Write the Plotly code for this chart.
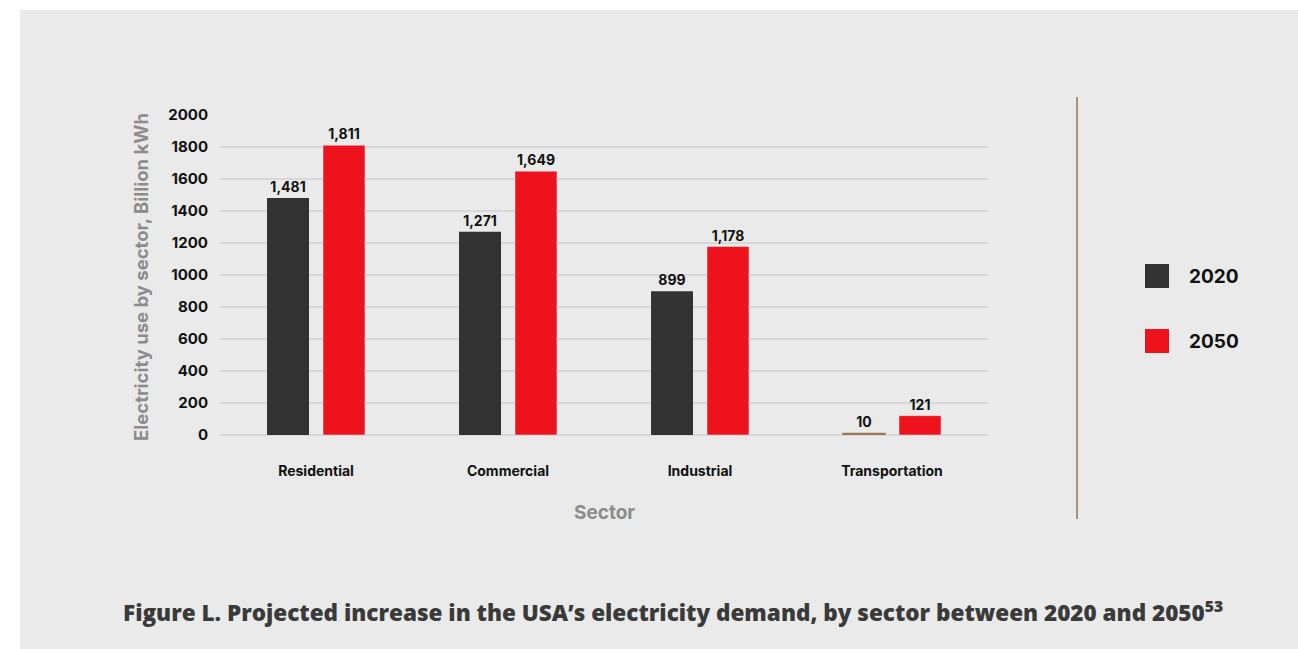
import plotly.graph_objects as go

sectors = ["Residential", "Commercial", "Industrial", "Transportation"]
values_2020 = [1481, 1271, 899, 10]
values_2050 = [1811, 1649, 1178, 121]
colors_2020 = ["#333333", "#333333", "#333333", "#9C7B53"]
color_2050 = "#EE121C"
y_ticks = [0, 200, 400, 600, 800, 1000, 1200, 1400, 1600, 1800, 2000]

W, H = 1298, 649
# plot area in screen pixels (body margin removed below)
SL, SR, ST, SB = 220, 988, 115, 435


def px(x):
    return (x - SL) / (SR - SL)


def py(y):
    return (SB - y) / (SB - ST)


lab_font = dict(family="Inter", size=14, color="#111111", weight="bold")

fig = go.Figure()
fig.add_trace(go.Bar(
    name="2020", x=sectors, y=values_2020,
    marker=dict(color=colors_2020, line=dict(color=colors_2020, width=[0, 0, 0, 1.5])),
    text=[f"{v:,}" for v in values_2020], textposition="outside",
    textfont=lab_font, cliponaxis=False, showlegend=False,
))
fig.add_trace(go.Bar(
    name="2050", x=sectors, y=values_2050, marker_color=color_2050,
    text=[f"{v:,}" for v in values_2050], textposition="outside",
    textfont=lab_font, cliponaxis=False, showlegend=False,
))

shapes = [
    dict(type="rect", xref="paper", yref="paper", layer="below",
         x0=px(20), x1=px(W + 20), y0=py(10), y1=py(H + 20),
         fillcolor="#EAEAEA", line=dict(width=0)),
    dict(type="line", xref="paper", yref="paper",
         x0=px(1077), x1=px(1077), y0=py(97), y1=py(519),
         line=dict(color="#A89274", width=2)),
    dict(type="rect", xref="paper", yref="paper",
         x0=px(1145), x1=px(1169), y0=py(264), y1=py(288),
         fillcolor="#333333", line=dict(width=0)),
    dict(type="rect", xref="paper", yref="paper",
         x0=px(1145), x1=px(1169), y0=py(329), y1=py(353),
         fillcolor=color_2050, line=dict(width=0)),
]

annotations = [
    dict(text="2020", xref="paper", yref="paper", x=px(1187), y=py(276),
         xanchor="left", yanchor="middle", showarrow=False,
         font=dict(family="Inter", size=19, color="#111111", weight="bold")),
    dict(text="2050", xref="paper", yref="paper", x=px(1187), y=py(341),
         xanchor="left", yanchor="middle", showarrow=False,
         font=dict(family="Inter", size=19, color="#111111", weight="bold")),
    dict(text="Electricity use by sector, Billion kWh", xref="paper", yref="paper",
         x=px(141), y=py(277), textangle=-90, xanchor="center", yanchor="middle",
         showarrow=False,
         font=dict(family="Inter", size=18.5, color="#8C8C8C", weight="bold")),
    dict(text="Sector", xref="paper", yref="paper", x=px(604), y=py(512),
         xanchor="center", yanchor="middle", showarrow=False,
         font=dict(family="Inter", size=19, color="#8C8C8C", weight="bold")),
    dict(text="Figure L. Projected increase in the USA’s electricity demand, by sector between 2020 and 2050<sup>53</sup>",
         xref="paper", yref="paper", x=px(673), y=py(611),
         xanchor="center", yanchor="middle", showarrow=False,
         font=dict(family="Open Sans", size=22.5, color="#3A3A3A", weight=800)),
]

fig.update_layout(
    width=W, height=H, autosize=False,
    margin=dict(l=SL, r=W - SR, t=ST, b=H - SB, pad=0),
    paper_bgcolor="white", plot_bgcolor="rgba(0,0,0,0)",
    barmode="group", bargap=0.417, bargroupgap=0.25,
    shapes=shapes, annotations=annotations, showlegend=False,
    xaxis=dict(showgrid=False, showline=False, zeroline=False,
               tickfont=lab_font, ticklabelstandoff=26),
    yaxis=dict(range=[0, 2000], tickvals=y_ticks,
               showgrid=True, gridcolor="#D8D8D8", gridwidth=2,
               zeroline=True, zerolinecolor="#D8D8D8", zerolinewidth=2,
               showline=False,
               tickfont=dict(family="Inter", size=15, color="#111111", weight="bold"),
               ticklabelstandoff=11),
)

fig.write_html("out.html", config={"displayModeBar": False},
               post_script="document.body.style.margin='0px';"
                           "document.body.style.overflow='hidden';"
                           "document.body.style.background='#EAEAEA';")
